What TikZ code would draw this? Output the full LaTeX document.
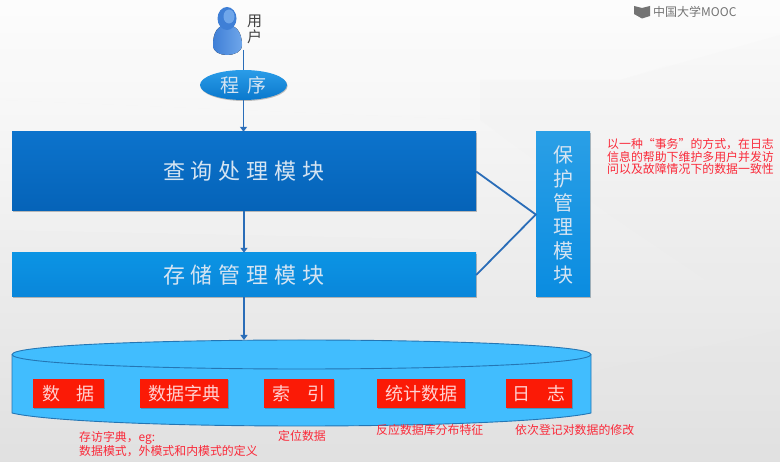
\documentclass[tikz,border=0pt]{standalone}
\usepackage{fontspec}
\setmainfont{Noto Sans CJK SC}
\usetikzlibrary{shadows,arrows.meta,shapes.geometric}
\definecolor{linkblue}{HTML}{2A6DB8}
\definecolor{pale}{HTML}{D5E4F2}
\definecolor{note}{HTML}{FA2A3A}
\definecolor{dbfill}{HTML}{41BDFE}
\definecolor{dbline}{HTML}{2476B4}
\definecolor{usera}{HTML}{3F7FD6}
\definecolor{userb}{HTML}{6FA6EA}
\definecolor{querytop}{HTML}{0C73CC}
\definecolor{querybot}{HTML}{0563B8}
\definecolor{storetop}{HTML}{0B94E4}
\definecolor{storebot}{HTML}{0A86DA}
\definecolor{guardtop}{HTML}{2A9FE6}
\definecolor{guardbot}{HTML}{0A8CE0}
\definecolor{progtop}{HTML}{2A9CE8}
\definecolor{progbot}{HTML}{0A78CC}
\definecolor{redfill}{HTML}{FB1A06}
\tikzset{
  x=1pt,y=-1pt,
  softshadow/.style={drop shadow={shadow xshift=0.6pt,shadow yshift=-1pt,opacity=.35,fill=black!70}},
  modbox/.style={rectangle,inner sep=0pt,softshadow,text=pale},
  redbox/.style={rectangle,inner sep=0pt,fill=redfill,minimum height=29pt,text=white!82!red,font=\fontsize{18}{18}\selectfont,softshadow},
  notetext/.style={inner sep=0pt,anchor=north west,align=left,text=note,font=\fontsize{11.9}{12.4}\selectfont},
  flow/.style={draw=linkblue,line width=1.8pt,-{Triangle[length=5pt,width=7pt]}},
  plainflow/.style={draw=linkblue,line width=1.8pt},
  tie/.style={draw=linkblue,line width=1.8pt},
}
\begin{document}
\begin{tikzpicture}
\useasboundingbox (0,0) rectangle (780,462);
% background
\shade[top color=white!98!gray,bottom color=black!12!white] (0,0) rectangle (780,462);
\fill[white,opacity=.15] (0,0) -- (780,0) -- (780,30) -- (620,80) -- (480,80) -- (480,120) -- (0,100) -- cycle;
\fill[black!8,opacity=.1] (480,80) -- (620,80) -- (780,35) -- (780,330) -- (610,215) -- (480,120) -- cycle;
\fill[white,opacity=.12] (0,100) -- (480,120) -- (480,240) -- (0,230) -- cycle;
\fill[black!10,opacity=.12] (600,370) -- (780,330) -- (780,462) -- (500,462) -- cycle;
% logo
\fill[black!55] (634,6) -- (642,8) -- (650,6) -- (650,16) -- (642,18.5) -- (634,14) -- cycle;
\node[inner sep=0pt,anchor=west,text=black!55,font=\fontsize{12}{12}\selectfont] (logo) at (653,11.5) {中国大学MOOC};
% user figure
\fill[left color=usera,right color=userb] (213,45) .. controls (213,32) and (218,25) .. (227,25) .. controls (236,25) and (242,32) .. (242,45) .. controls (242,52) and (234,55) .. (227,55) .. controls (220,55) and (213,52) .. (213,45) -- cycle;
\fill[usera] (227,18.5) ellipse (9.5 and 11.5);
\fill[userb] (229,16.5) ellipse (5.5 and 7);
\coordinate (user) at (243.5,50);
\node[inner sep=0pt,anchor=north,align=center,text=black!75,font=\fontsize{15}{15.5}\selectfont] (userlabel) at (254.5,15) {用\\户};
% modules
\node[ellipse,minimum width=87pt,minimum height=30pt,inner sep=0pt,softshadow,top color=progtop,bottom color=progbot,text=pale,font=\fontsize{19}{19}\selectfont] (prog) at (243.5,85) {程\hspace{9pt}序};
\node[modbox,minimum width=464pt,minimum height=79pt,top color=querytop,bottom color=querybot,font=\fontsize{22}{22}\selectfont] (query) at (244,171.5) {查\hspace{6pt}询\hspace{6pt}处\hspace{6pt}理\hspace{6pt}模\hspace{6pt}块};
\node[modbox,minimum width=464pt,minimum height=44pt,top color=storetop,bottom color=storebot,font=\fontsize{22}{22}\selectfont] (store) at (244,275) {存\hspace{6pt}储\hspace{6pt}管\hspace{6pt}理\hspace{6pt}模\hspace{6pt}块};
\node[modbox,minimum width=54pt,minimum height=165pt,top color=guardtop,bottom color=guardbot,align=center,font=\fontsize{20}{24}\selectfont] (guard) at (563,214.5) {保\\护\\管\\理\\模\\块};
% database
\coordinate (dbtop) at (244,340);
\filldraw[fill=dbfill,draw=dbline,line width=.9pt] (12,354.5) -- (12,413) .. controls (40,420) and (150,426) .. (301.5,426) .. controls (453,426) and (560,420) .. (591,413) -- (591,354.5) .. controls (591,345) and (440,340) .. (301.5,340) .. controls (163,340) and (12,345) .. (12,354.5) -- cycle;
\draw[dbline,line width=.9pt] (12,354.5) .. controls (12,364) and (163,369) .. (301.5,369) .. controls (440,369) and (591,364) .. (591,354.5);
\node[redbox,minimum width=71pt] (r1) at (68.5,393.5) {数\hspace{17pt}据};
\node[redbox,minimum width=88pt] (r2) at (184,393.5) {数据字典};
\node[redbox,minimum width=70pt] (r3) at (299,393.5) {索\hspace{17pt}引};
\node[redbox,minimum width=88pt] (r4) at (421,393.5) {统计数据};
\node[redbox,minimum width=66pt] (r5) at (539,393.5) {日\hspace{17pt}志};
% connectors
\draw[plainflow] (user) -- (prog.north -| user);
\draw[flow] (prog.south -| user) -- (query.north -| user);
\draw[flow] (query.south) -- (store.north);
\draw[flow] (store.south) -- (dbtop);
\draw[tie] (query.east) -- (guard.west) -- (store.east);
% notes
\node[notetext] (n1) at (607,138.5) {以一种“事务”的方式，在日志\\信息的帮助下维护多用户并发访\\问以及故障情况下的数据一致性};
\node[notetext] (n2) at (79,431) {存访字典，eg:\\数据模式，外模式和内模式的定义};
\node[notetext] (n3) at (278,430.5) {定位数据};
\node[notetext] (n4) at (376,424.5) {反应数据库分布特征};
\node[notetext] (n5) at (515,424.5) {依次登记对数据的修改};
\end{tikzpicture}
\end{document}
